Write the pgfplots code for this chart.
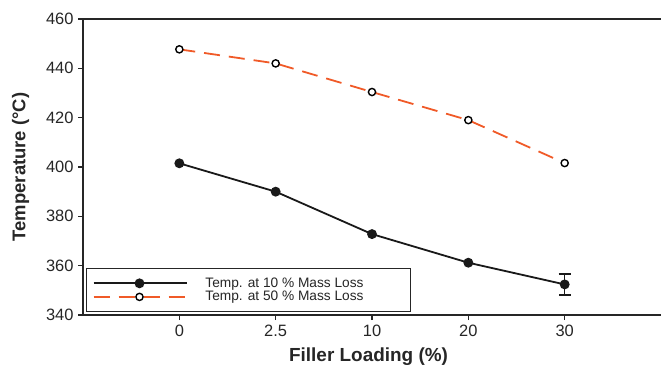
\documentclass[border=0pt]{standalone}
\usepackage{pgfplots}
\pgfplotsset{compat=1.18}
\usepackage{fontspec}
\setmainfont{Liberation Sans}
\definecolor{orng}{HTML}{F05A28}
\begin{document}
\begin{tikzpicture}
\begin{axis}[
  name=ax,
  scale only axis,
  width=578bp, height=296bp,
  xmin=-1, xmax=5, ymin=340, ymax=460,
  axis x line*=box, axis y line*=left,
  axis line style={line width=1.6bp, black!85},
  xtick={0,1,2,3,4},
  xticklabels={0,2.5,10,20,30},
  xtick pos=bottom, ytick pos=left,
  ytick={340,360,...,460},
  tick align=outside,
  major tick length=5bp,
  tick style={line width=1.4bp, black!85},
  /pgf/number format/assume math mode=true,
  ticklabel style={font=\fontsize{16.5}{18}\selectfont, text=black!85},
  yticklabel style={xshift=-1bp},
  xticklabel style={yshift=-1bp},
  xlabel={Filler Loading (\%)},
  ylabel={Temperature (°C)},
  xlabel style={at={(axis description cs:0.494,-0.142)}, anchor=center, font=\fontsize{19}{22}\selectfont\bfseries, text=black!85},
  ylabel style={at={(axis description cs:-0.108,0.5)}, anchor=center, rotate=0, font=\fontsize{18.5}{22}\selectfont\bfseries, text=black!85},
  legend style={at={(axis description cs:0.0052,0.0101)}, anchor=south west,
    draw=black!85, line width=1.2bp, inner xsep=6bp, inner ysep=7bp,
    font=\fontsize{13.75}{14}\selectfont, text=black!85, row sep=-1.5bp},
  legend cell align=left,
  legend image code/.code={
    \draw[mark repeat=2,mark phase=2,#1] plot coordinates {(0bp,0bp) (46bp,0bp) (93bp,0bp)};
  },
]
\addplot[black!90, line width=1.8bp, mark=*, mark size=4bp, mark options={solid, fill=black!90},
  error bars/.cd, y dir=both, y explicit, error mark options={rotate=90, mark size=6bp, line width=1.6bp}, error bar style={line width=1.6bp}]
  coordinates {(0,401.5) (1,390.0) (2,372.8) (3,361.2) (4,352.4) +- (0,4.25)};
\addlegendentry{\hspace*{16bp}\makebox[197bp][l]{Temp. at 10 \% Mass Loss}}
\addplot[orng, line width=1.8bp, dash pattern=on 16bp off 9bp, mark=*, mark size=3.6bp,
  mark options={solid, fill=white, draw=black, line width=1.4bp}]
  coordinates {(0,447.7) (1,442.0) (2,430.4) (3,419.0) (4,401.6)};
\addlegendentry{\hspace*{16bp}\makebox[197bp][l]{Temp. at 50 \% Mass Loss}}
\end{axis}
\pgfresetboundingbox
\path (ax.south west) ++(-83bp,-55bp) rectangle (ax.north east);
\path (ax.north east) ++(0,19bp) coordinate (tr);
\path (tr);
\end{tikzpicture}
\end{document}
